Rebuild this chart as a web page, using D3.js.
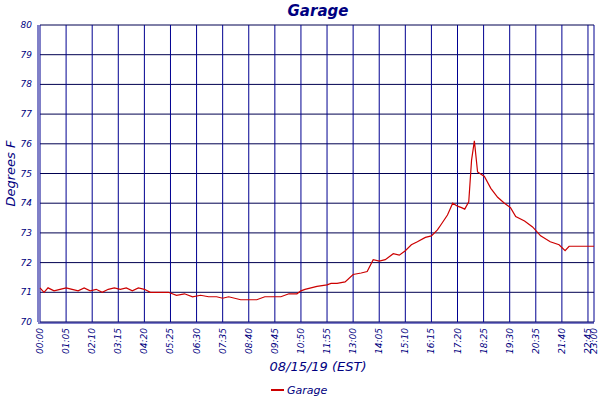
<!DOCTYPE html>
<meta charset="utf-8">
<style>
body { margin: 0; background: #fff; }
text { font-family: "DejaVu Sans", Verdana, sans-serif; font-style: italic; fill: #000080; }
</style>
<svg width="600" height="400"></svg>
<script src="https://d3js.org/d3.v7.min.js"></script>
<script>

// minutes since midnight, degrees F
var times = [0, 10, 20, 35, 50, 65, 80, 95, 110, 125, 140, 155, 170, 185, 200, 215, 230, 245, 260, 275,
  300, 320, 340, 360, 380, 400, 420, 440, 455, 470, 500, 520, 540, 560, 580, 600, 620, 640, 650, 660,
  690, 715, 725, 740, 760, 780, 800, 815, 830, 845, 860, 880, 895, 910, 925, 940, 960, 975, 990, 1000,
  1015, 1028, 1040, 1050, 1058, 1068, 1075, 1082, 1090, 1107, 1123, 1140, 1157, 1172, 1185, 1207,
  1227, 1247, 1271, 1293, 1308, 1318, 1380];
var temps = [71.15, 71.0, 71.15, 71.05, 71.1, 71.15, 71.1, 71.05, 71.15, 71.05, 71.1, 71.0, 71.1, 71.15, 71.1, 71.15, 71.05, 71.15, 71.1, 71.0,
  71.0, 71.0, 70.9, 70.95, 70.85, 70.9, 70.85, 70.85, 70.8, 70.85, 70.75, 70.75, 70.75, 70.85, 70.85, 70.85, 70.95, 70.95, 71.05, 71.1,
  71.2, 71.25, 71.3, 71.3, 71.35, 71.6, 71.65, 71.7, 72.1, 72.05, 72.1, 72.3, 72.25, 72.4, 72.6, 72.7, 72.85, 72.9, 73.1, 73.3,
  73.6, 74.0, 73.9, 73.85, 73.8, 74.05, 75.45, 76.1, 75.05, 74.9, 74.5, 74.2, 74.0, 73.85, 73.55, 73.4,
  73.2, 72.9, 72.7, 72.6, 72.4, 72.55, 72.55];
var xTicks = [0, 65, 130, 195, 260, 325, 390, 455, 520, 585, 650, 715, 780, 845, 910, 975, 1040, 1105, 1170, 1235, 1300, 1365, 1380];
var yTicks = [70, 71, 72, 73, 74, 75, 76, 77, 78, 79, 80];

var svg = d3.select("svg"),
    margin = {top: 25, right: 6, bottom: 78, left: 40},
    width = 600 - margin.left - margin.right,
    height = 400 - margin.top - margin.bottom;

var x = d3.scaleLinear().domain([0, 1380]).range([0, width]);
var y = d3.scaleLinear().domain([70, 80]).range([height, 0]);

var g = svg.append("g").attr("transform", "translate(" + margin.left + "," + margin.top + ")");

var fmt = function(m) { return d3.format("02")(Math.floor(m / 60)) + ":" + d3.format("02")(m % 60); };

// grid
g.selectAll(".hg").data(yTicks).enter().append("line")
    .attr("x1", 0).attr("x2", width).attr("y1", y).attr("y2", y)
    .attr("stroke", "#000050").attr("stroke-width", 1);
g.selectAll(".vg").data(xTicks).enter().append("line")
    .attr("x1", x).attr("x2", x).attr("y1", 0).attr("y2", height)
    .attr("stroke", "#000090").attr("stroke-width", 1);
g.append("line").attr("x1", -2).attr("x2", -2).attr("y1", 0).attr("y2", height)
    .attr("stroke", "#000090");
g.append("line").attr("x1", -2).attr("x2", width).attr("y1", height + 1).attr("y2", height + 1)
    .attr("stroke", "#000090");

// y labels
g.selectAll(".yl").data(yTicks).enter().append("text")
    .attr("x", -8).attr("y", function(d) { return y(d) + 3; })
    .attr("text-anchor", "end").style("font-size", "9px")
    .text(function(d) { return d; });

// x labels
g.selectAll(".xl").data(xTicks).enter().append("text")
    .attr("transform", function(d) { return "translate(" + (x(d) + 3) + "," + (height + 6) + ") rotate(-90)"; })
    .attr("text-anchor", "end").style("font-size", "9px")
    .text(fmt);

// line
var line = d3.line().x(function(d) { return x(d[0]); }).y(function(d) { return y(d[1]); });
g.append("path").datum(d3.zip(times, temps))
    .attr("d", line).attr("fill", "none").attr("stroke", "#cc0000").attr("stroke-width", 1.2);

// titles
svg.append("text").attr("x", 318).attr("y", 16).attr("text-anchor", "middle")
    .style("font-size", "15px").style("font-weight", "bold").text("Garage");
svg.append("text").attr("transform", "translate(15," + (margin.top + height / 2) + ") rotate(-90)")
    .attr("text-anchor", "middle").style("font-size", "13px").text("Degrees F");
svg.append("text").attr("x", 318).attr("y", 371).attr("text-anchor", "middle")
    .style("font-size", "13px").text("08/15/19 (EST)");

// legend
svg.append("line").attr("x1", 271).attr("x2", 284).attr("y1", 390).attr("y2", 390)
    .attr("stroke", "#cc0000").attr("stroke-width", 2);
svg.append("text").attr("x", 287).attr("y", 394).style("font-size", "11px").text("Garage");

</script>
